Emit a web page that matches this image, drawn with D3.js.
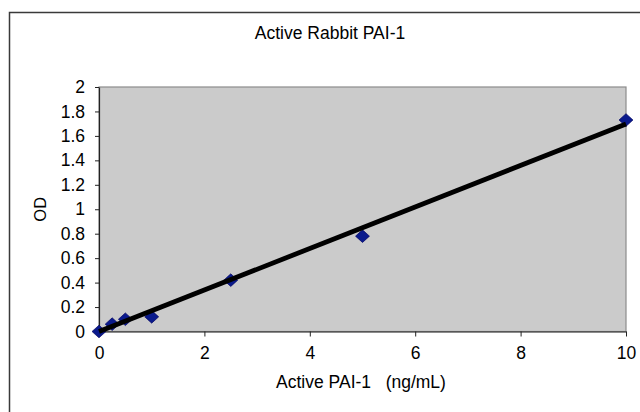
<!DOCTYPE html>
<html>
<head>
<meta charset="utf-8">
<script src="https://cdn.jsdelivr.net/npm/d3@7"></script>
<style>
  body { margin: 0; background: #fff; }
  text { font-family: "Liberation Sans", Arial, sans-serif; fill: #000; }
</style>
</head>
<body>
<div id="chart"></div>
<script>
// Standard curve values
const concentrations = [0, 0.25, 0.5, 1, 2.5, 5, 10];
const odValues = [0, 0.06, 0.1, 0.12, 0.42, 0.78, 1.73];
const xTicks = [0, 2, 4, 6, 8, 10];
const yTicks = [0, 0.2, 0.4, 0.6, 0.8, 1, 1.2, 1.4, 1.6, 1.8, 2];

function drawChart() {
  const width = 640, height = 412;
  const plot = { left: 99, top: 87, right: 626, bottom: 331.5 };
  const fontSize = '17.5px';

  const svg = d3.select('#chart').append('svg')
    .attr('width', width)
    .attr('height', height);

  // outer chart frame (runs off the right and bottom edges)
  svg.append('rect')
    .attr('x', 9.5).attr('y', 12.5)
    .attr('width', 660).attr('height', 440)
    .attr('fill', '#fff')
    .attr('stroke', '#3a3a3a')
    .attr('stroke-width', 1.5);

  const x = d3.scaleLinear().domain([0, 10]).range([plot.left, plot.right]);
  const y = d3.scaleLinear().domain([0, 2]).range([plot.bottom, plot.top]);

  // plot area
  svg.append('rect')
    .attr('x', plot.left).attr('y', plot.top)
    .attr('width', plot.right - plot.left)
    .attr('height', plot.bottom - plot.top)
    .attr('fill', '#cbcbcb')
    .attr('stroke', '#8c8c8c')
    .attr('stroke-width', 1.2);

  // axes
  const xAxis = svg.append('g')
    .attr('transform', `translate(0,${plot.bottom})`)
    .call(d3.axisBottom(x).tickValues(xTicks).tickSize(5).tickPadding(10).tickSizeOuter(0));
  const yAxis = svg.append('g')
    .attr('transform', `translate(${plot.left},0)`)
    .call(d3.axisLeft(y).tickValues(yTicks).tickSize(4).tickPadding(10).tickSizeOuter(0)
      .tickFormat(d3.format('~g')));

  [xAxis, yAxis].forEach(axis => {
    axis.select('.domain').attr('stroke', '#222').attr('stroke-width', 1.2);
    axis.selectAll('line').attr('stroke', '#222').attr('stroke-width', 1);
    axis.selectAll('text')
      .style('font-size', fontSize)
      .style('font-family', '"Liberation Sans", Arial, sans-serif')
      .attr('fill', '#000');
  });

  // linear trendline (least squares through the points)
  const n = concentrations.length;
  const mx = d3.mean(concentrations), my = d3.mean(odValues);
  let sxy = 0, sxx = 0;
  for (let i = 0; i < n; i++) {
    sxy += (concentrations[i] - mx) * (odValues[i] - my);
    sxx += (concentrations[i] - mx) ** 2;
  }
  const slope = sxy / sxx;
  const intercept = my - slope * mx;
  const xMin = d3.min(concentrations), xMax = d3.max(concentrations);

  // markers: squares turned 45 degrees
  const marker = d3.symbol().type(d3.symbolSquare).size(80);
  svg.append('g').selectAll('path')
    .data(concentrations.map((c, i) => ({ c, od: odValues[i] })))
    .enter().append('path')
    .attr('d', marker)
    .attr('transform', d => `translate(${x(d.c)},${y(d.od)}) scale(1.1,1) rotate(45)`)
    .attr('fill', '#0a1a8c')
    .attr('stroke', '#000060')
    .attr('stroke-width', 0.6);

  svg.append('line')
    .attr('x1', x(xMin)).attr('y1', y(Math.max(0, slope * xMin + intercept)))
    .attr('x2', x(xMax)).attr('y2', y(slope * xMax + intercept))
    .attr('stroke', '#000')
    .attr('stroke-width', 4.8);

  // titles
  svg.append('text')
    .attr('x', 330).attr('y', 39)
    .attr('text-anchor', 'middle')
    .style('font-size', fontSize)
    .text('Active Rabbit PAI-1');

  svg.append('text')
    .attr('transform', `translate(45.5,${(plot.top + plot.bottom) / 2}) rotate(-90)`)
    .attr('text-anchor', 'middle')
    .style('font-size', '16.5px')
    .text('OD');

  svg.append('text')
    .attr('x', 361).attr('y', 388)
    .attr('text-anchor', 'middle')
    .attr('xml:space', 'preserve')
    .style('white-space', 'pre')
    .style('font-size', fontSize)
    .text('Active PAI-1   (ng/mL)');
}

drawChart();
</script>
</body>
</html>
